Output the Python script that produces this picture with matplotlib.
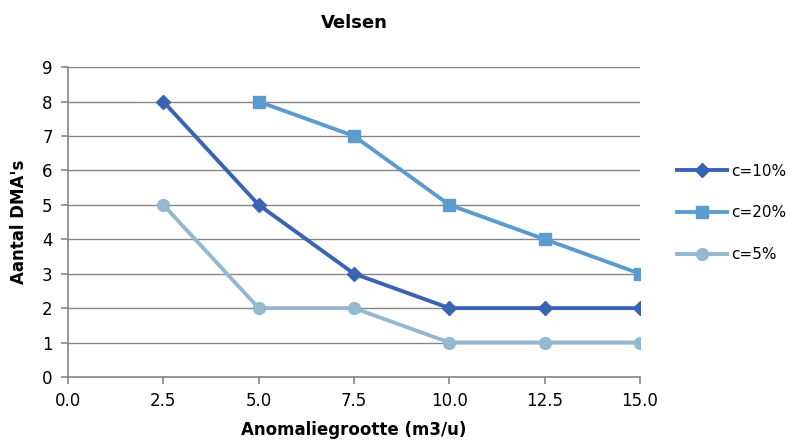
import matplotlib
matplotlib.use("Agg")
import matplotlib.pyplot as plt

# data
x_10 = [2.5, 5.0, 7.5, 10.0, 12.5, 15.0]
y_10 = [8, 5, 3, 2, 2, 2]
x_20 = [5.0, 7.5, 10.0, 12.5, 15.0]
y_20 = [8, 7, 5, 4, 3]
x_5 = [2.5, 5.0, 7.5, 10.0, 12.5, 15.0]
y_5 = [5, 2, 2, 1, 1, 1]
x_ticks = [0.0, 2.5, 5.0, 7.5, 10.0, 12.5, 15.0]
y_ticks = list(range(0, 10))

plt.rcParams['font.family'] = ['DejaVu Sans']

fig = plt.figure(figsize=(8, 4.45), dpi=100)
ax = fig.add_axes([0.085, 0.153, 0.715, 0.696])

ax.plot(x_10, y_10, color='#3A63B4', lw=2.8, marker='D', ms=7.5, label='c=10%', zorder=3)
ax.plot(x_20, y_20, color='#5B9BD0', lw=2.8, marker='s', ms=8.5, label='c=20%', zorder=3)
ax.plot(x_5, y_5, color='#94B8CF', lw=2.8, marker='o', ms=8.5, label='c=5%', zorder=3)

ax.set_xlim(0, 15)
ax.set_ylim(0, 9)
ax.set_xticks(x_ticks)
ax.set_xticklabels([f"{v:.1f}" for v in x_ticks])
ax.set_yticks(y_ticks)
ax.yaxis.grid(True, color='#868686', lw=1)
ax.set_axisbelow(True)
for s in ['top', 'right']:
    ax.spines[s].set_visible(False)
for s in ['left', 'bottom']:
    ax.spines[s].set_color('#868686')
    ax.spines[s].set_linewidth(1.2)
ax.tick_params(axis='both', colors='#868686', labelcolor='black', labelsize=12, length=5, width=1.2)
ax.tick_params(axis='x', pad=6)
ax.tick_params(axis='y', pad=6)

ax.set_title('Velsen', fontsize=13, fontweight='bold', pad=28)
ax.set_xlabel('Anomaliegrootte (m3/u)', fontsize=12, fontweight='bold', labelpad=8)
ax.set_ylabel("Aantal DMA's", fontsize=12, fontweight='bold', labelpad=10)

ax.legend(loc='center left', bbox_to_anchor=(1.04, 0.53), frameon=False, fontsize=11,
          handlelength=3.3, labelspacing=1.75, handletextpad=0.25)

fig.savefig('out.png', dpi=100)
